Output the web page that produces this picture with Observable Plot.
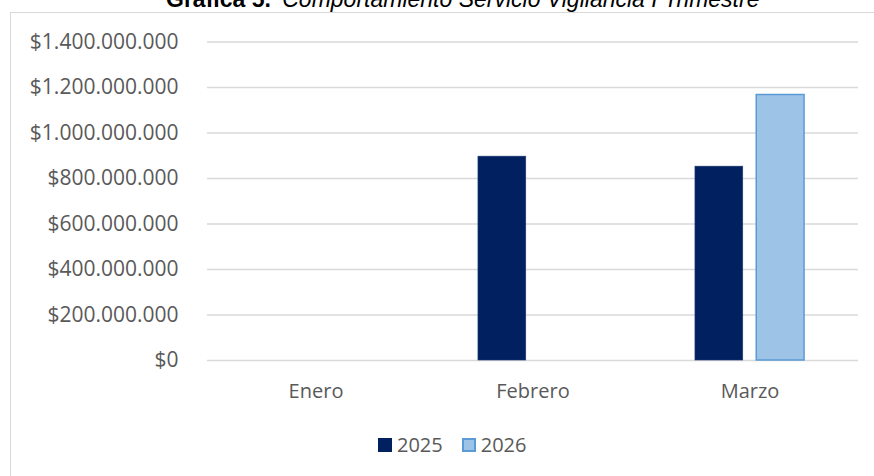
<!DOCTYPE html>
<html>
<head>
<meta charset="utf-8">
<script src="https://cdn.jsdelivr.net/npm/d3@7"></script>
<script src="https://cdn.jsdelivr.net/npm/@observablehq/plot@0.6"></script>
<style>
  html, body { margin: 0; padding: 0; background: #fff; }
  #wrap { position: relative; width: 874px; height: 476px; overflow: hidden; background: #fff; }
  #frame { position: absolute; left: 10px; top: 12px; width: 900px; height: 500px; border: 1px solid #d9d9d9; box-sizing: border-box; }
  #title { position: absolute; left: 166px; top: -12px; font-family: "Liberation Sans", Arial, sans-serif; font-size: 23px; color: #000; white-space: nowrap; line-height: 1; }
  #title b { font-weight: bold; }
  #title i { font-style: italic; margin-left: 5px; }
  #chart { position: absolute; left: 0; top: 0; }
  #legend { position: absolute; left: 378px; top: 431px; display: flex; align-items: center; font-family: "Open Sans", sans-serif; font-size: 20px; color: #595959; }
  .sw { width: 14px; height: 14px; box-sizing: border-box; margin-right: 5px; }
  .item { display: flex; align-items: center; margin-right: 19px; }
</style>
</head>
<body>
<div id="wrap">
  <div id="frame"></div>
  <div id="title"><b>Gráfica 5.</b> <i>Comportamiento Servicio Vigilancia I Trimestre</i></div>
  <div id="chart"></div>
  <div id="legend"></div>
</div>
<script>
const months = ["Enero", "Febrero", "Marzo"];
const years = ["2025", "2026"];
const values2025 = [null, 896000000, 852000000];
const values2026 = [null, null, 1167000000];
const yTicks = [0, 200000000, 400000000, 600000000, 800000000, 1000000000, 1200000000, 1400000000];
const colors = ["#002060", "#9dc3e6"];
const strokes = ["#1f3a73", "#5b9bd5"];

const rows = [];
months.forEach((m, i) => {
  rows.push({month: m, year: "2025", value: values2025[i]});
  rows.push({month: m, year: "2026", value: values2026[i]});
});

const locale = d3.formatLocale({decimal: ",", thousands: ".", grouping: [3], currency: ["$", ""]});
const fmt = locale.format("$,.0f");

const chart = Plot.plot({
  width: 874,
  height: 400,
  marginTop: 41.5,
  marginBottom: 40,
  marginLeft: 207,
  marginRight: 16,
  style: {fontFamily: "Open Sans, sans-serif", fontSize: "20px", color: "#595959", background: "transparent"},
  fx: {domain: months, padding: 0, label: null, axis: null},
  x: {domain: years, paddingInner: 0.22, paddingOuter: 0.88, round: false, axis: null},
  y: {domain: [0, 1400000000], ticks: yTicks, label: null, tickFormat: fmt},
  color: {domain: years, range: colors},
  marks: [
    Plot.gridY(yTicks, {stroke: "#d9d9d9", strokeOpacity: 1, strokeWidth: 1.3}),
    Plot.axisY(yTicks, {tickSize: 0, tickPadding: 29, tickFormat: fmt, fill: "#595959", fontSize: 21, label: null}),
    Plot.axisFx({tickSize: 0, tickPadding: 23, fill: "#595959", fontSize: 20, label: null, anchor: "bottom"}),
    Plot.barY(rows, {fx: "month", x: "year", y: "value", fill: "year", stroke: d => d.year === "2026" ? strokes[1] : strokes[0], strokeWidth: d => d.year === "2026" ? 1.5 : 0.6})
  ]
});
document.getElementById("chart").appendChild(chart);

const legend = document.getElementById("legend");
years.forEach((y, i) => {
  const item = document.createElement("div");
  item.className = "item";
  const sw = document.createElement("div");
  sw.className = "sw";
  sw.style.background = colors[i];
  sw.style.border = i === 1 ? "2px solid " + strokes[1] : "none";
  const t = document.createElement("span");
  t.textContent = y;
  item.appendChild(sw);
  item.appendChild(t);
  legend.appendChild(item);
});
</script>
</body>
</html>
